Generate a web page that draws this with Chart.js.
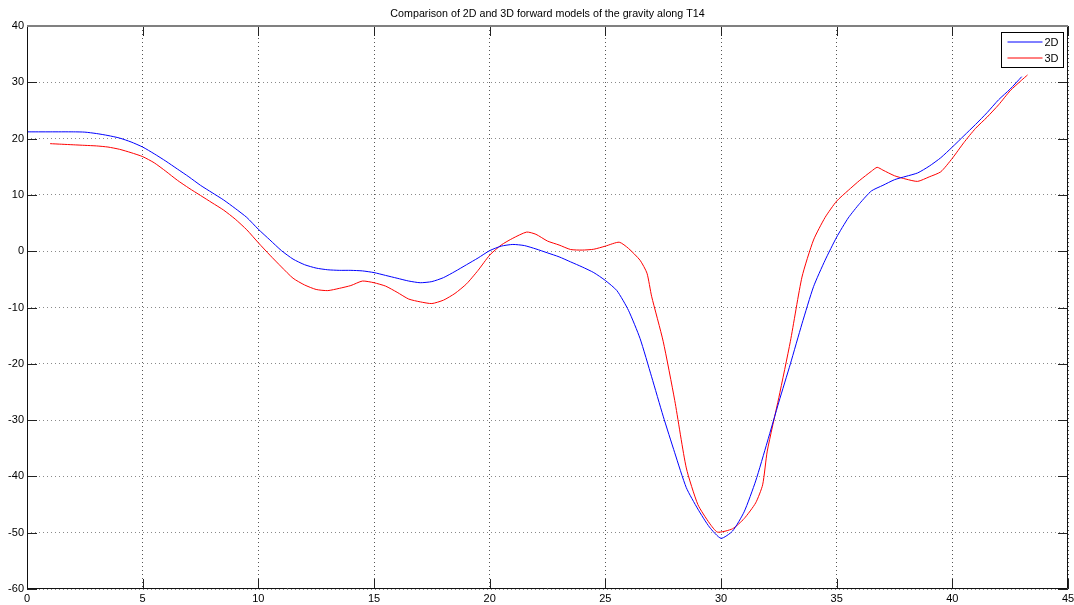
<!DOCTYPE html>
<html>
<head>
<meta charset="utf-8">
<script src="https://cdn.jsdelivr.net/npm/chart.js@4.4.1/dist/chart.umd.min.js"></script>
<style>
  html, body { margin: 0; padding: 0; background: #fff; }
  #wrap { width: 1074px; height: 605px; }
</style>
</head>
<body>
<div id="wrap"><canvas id="gravityChart" width="1074" height="605"></canvas></div>
<script>
// distance along the profile and gravity
const x2d = [0, 1, 2, 2.5, 3, 3.5, 4, 4.5, 5, 5.5, 6, 6.5, 7, 7.5, 8, 8.5, 9, 9.5, 10, 10.5,
  11, 11.5, 12, 12.5, 13, 13.5, 14, 14.5, 15, 15.5, 16, 16.5, 17, 17.5, 18, 18.5, 19, 19.5, 20, 20.5,
  21, 21.5, 22, 22.5, 23, 23.5, 24, 24.5, 25, 25.5, 26, 26.5, 27, 27.5, 28, 28.5, 29, 29.5, 30, 30.5,
  31, 31.5, 32, 32.5, 33, 33.5, 34, 34.5, 35, 35.5, 36, 36.5, 37, 37.5, 38, 38.5, 39, 39.5, 40, 40.5,
  41, 41.5, 42, 42.5, 43];
const y2d = [21.2, 21.2, 21.2, 21.15, 20.9, 20.55, 20.1, 19.4, 18.5, 17.3, 16.0, 14.6, 13.2, 11.7, 10.4, 9.1, 7.6, 6.0, 3.9, 2.0,
  0.1, -1.4, -2.4, -3.0, -3.3, -3.4, -3.4, -3.5, -3.8, -4.3, -4.8, -5.3, -5.6, -5.4, -4.7, -3.6, -2.4, -1.2, 0.1, 0.9,
  1.2, 1.0, 0.4, -0.3, -1.0, -1.9, -2.8, -3.8, -5.2, -7.0, -10.5, -15.5, -22.3, -29.3, -35.8, -42.0, -45.8, -49.0, -51.0, -49.7,
  -46.3, -40.8, -33.9, -26.8, -20.0, -12.9, -6.3, -1.6, 2.5, 5.9, 8.5, 10.7, 11.7, 12.7, 13.3, 13.9, 15.1, 16.6, 18.5, 20.5,
  22.5, 24.6, 26.9, 28.8, 31.0];

const x3d = [1, 1.5, 2, 2.5, 3, 3.5, 4, 4.5, 5, 5.5, 6, 6.5, 7, 7.5, 8, 8.5, 9, 9.5, 10, 10.5,
  11, 11.5, 12, 12.5, 13, 13.5, 14, 14.5, 15, 15.5, 16, 16.5, 17, 17.5, 18, 18.5, 19, 19.5, 20, 20.5,
  21, 21.6, 22, 22.5, 23, 23.5, 24, 24.5, 25, 25.6, 26, 26.5, 26.8, 27, 27.5, 28, 28.5, 29, 29.5, 29.85,
  30.5, 31, 31.5, 31.8, 32, 32.5, 33, 33.5, 34, 34.5, 35, 35.5, 36, 36.5, 36.75, 37, 37.5, 38, 38.5, 39,
  39.5, 40, 40.5, 41, 41.5, 42, 42.5, 43, 43.25];
const y3d = [19.1, 19.0, 18.9, 18.8, 18.7, 18.5, 18.1, 17.5, 16.8, 15.7, 14.2, 12.6, 11.2, 9.9, 8.6, 7.3, 5.7, 3.8, 1.5, -0.7,
  -2.8, -4.8, -6.0, -6.8, -7.0, -6.6, -6.1, -5.3, -5.6, -6.2, -7.3, -8.5, -9.0, -9.3, -8.7, -7.5, -5.8, -3.4, -0.7, 1.1,
  2.3, 3.4, 3.0, 1.8, 1.1, 0.3, 0.2, 0.35, 0.9, 1.6, 0.5, -1.6, -3.9, -8.0, -16.0, -26.5, -38.5, -45.0, -48.3, -49.9,
  -49.3, -47.5, -44.7, -41.5, -35.5, -26.0, -16.0, -4.6, 2.0, 6.0, 8.9, 10.8, 12.6, 14.2, 14.9, 14.4, 13.4, 12.8, 12.4, 13.2,
  14.1, 16.5, 19.3, 21.8, 23.8, 26.0, 28.5, 30.4, 31.3];

const xTicks = [0, 5, 10, 15, 20, 25, 30, 35, 40, 45];
const yTicks = [-60, -50, -40, -30, -20, -10, 0, 10, 20, 30, 40];

const TITLE = 'Comparison of 2D and 3D forward models of the gravity along T14';
const FONT = "'Liberation Sans', Arial, Helvetica, sans-serif";

const toPoints = (xs, ys) => xs.map((x, i) => ({ x: x, y: ys[i] }));

// matlab-like frame, inward ticks, title over the axes and a boxed legend
const matlabAxes = {
  id: 'matlabAxes',
  afterDraw(chart) {
    const { ctx, chartArea: a, scales } = chart;
    ctx.save();
    ctx.lineWidth = 1;

    ctx.strokeStyle = '#222';
    ctx.beginPath();
    xTicks.forEach(v => {
      const px = Math.round(scales.x.getPixelForValue(v)) + 0.5;
      ctx.moveTo(px, a.bottom); ctx.lineTo(px, a.bottom - 10);
      ctx.moveTo(px, a.top); ctx.lineTo(px, a.top + 10);
    });
    yTicks.forEach(v => {
      const py = Math.round(scales.y.getPixelForValue(v)) + 0.5;
      ctx.moveTo(a.left, py); ctx.lineTo(a.left + 10, py);
      ctx.moveTo(a.right, py); ctx.lineTo(a.right - 10, py);
    });
    ctx.stroke();

    // box
    const l = Math.round(a.left) + 0.5, r = Math.round(a.right) - 0.5;
    const t = Math.round(a.top) + 0.5, b = Math.round(a.bottom) - 0.5;
    ctx.strokeStyle = '#111';
    ctx.beginPath();
    ctx.moveTo(l, t); ctx.lineTo(l, b); ctx.lineTo(r, b); ctx.lineTo(r, t);
    ctx.stroke();
    ctx.strokeStyle = '#808080';
    ctx.lineWidth = 2;
    ctx.beginPath();
    ctx.moveTo(l - 0.5, t - 0.5); ctx.lineTo(r + 0.5, t - 0.5);
    ctx.stroke();

    // title, centred over the axes like matlab does
    ctx.fillStyle = '#000';
    ctx.font = '10.7px ' + FONT;
    ctx.textAlign = 'center';
    ctx.textBaseline = 'middle';
    ctx.fillText(TITLE, (a.left + a.right) / 2, 14);

    // legend
    const lw = 62, lh = 35;
    const lx = Math.round(a.right) - 5 - lw + 0.5, ly = Math.round(a.top) + 6 + 0.5;
    ctx.fillStyle = '#fff';
    ctx.fillRect(lx, ly, lw, lh);
    ctx.lineWidth = 1;
    ctx.strokeStyle = '#000';
    ctx.strokeRect(lx, ly, lw, lh);
    ctx.font = '11px ' + FONT;
    ctx.textAlign = 'left';
    chart.data.datasets.forEach((ds, i) => {
      const yy = ly + 9.5 + i * 16;
      ctx.strokeStyle = ds.borderColor;
      ctx.beginPath();
      ctx.moveTo(lx + 6, yy); ctx.lineTo(lx + 41, yy);
      ctx.stroke();
      ctx.fillStyle = '#000';
      ctx.fillText(ds.label, lx + 43, yy + 0.5);
    });
    ctx.restore();
  }
};

const ctx = document.getElementById('gravityChart').getContext('2d');

new Chart(ctx, {
  type: 'line',
  data: {
    datasets: [
      {
        label: '2D',
        data: toPoints(x2d, y2d),
        borderColor: '#0000ff',
        borderWidth: 1,
        pointRadius: 0,
        tension: 0.2,
      },
      {
        label: '3D',
        data: toPoints(x3d, y3d),
        borderColor: '#ff0000',
        borderWidth: 1,
        pointRadius: 0,
        tension: 0.2,
      },
    ],
  },
  options: {
    responsive: false,
    animation: false,
    layout: { padding: { left: 0, right: 6, top: 26, bottom: 0 } },
    plugins: {
      legend: { display: false },
      tooltip: { enabled: false },
      title: { display: false },
    },
    scales: {
      x: {
        type: 'linear',
        min: 0,
        max: 45,
        afterBuildTicks: scale => { scale.ticks = xTicks.map(v => ({ value: v })); },
        afterFit: scale => {
          scale.height = 16;
          scale.paddingLeft = 0;
          scale.paddingRight = 0;
        },
        ticks: {
          color: '#000',
          padding: 3,
          maxRotation: 0,
          font: { family: FONT, size: 11 },
        },
        grid: {
          color: '#555',
          drawTicks: false,
        },
        border: { display: false, dash: [1, 3] },
      },
      y: {
        type: 'linear',
        min: -60,
        max: 40,
        afterBuildTicks: scale => { scale.ticks = yTicks.map(v => ({ value: v })); },
        afterFit: scale => {
          scale.width = 27;
          scale.paddingTop = 0;
          scale.paddingBottom = 0;
        },
        ticks: {
          color: '#000',
          padding: 3,
          font: { family: FONT, size: 11 },
        },
        grid: {
          color: '#8a8a8a',
          drawTicks: false,
        },
        border: { display: false, dash: [1, 3] },
      },
    },
  },
  plugins: [matlabAxes],
});
</script>
</body>
</html>
